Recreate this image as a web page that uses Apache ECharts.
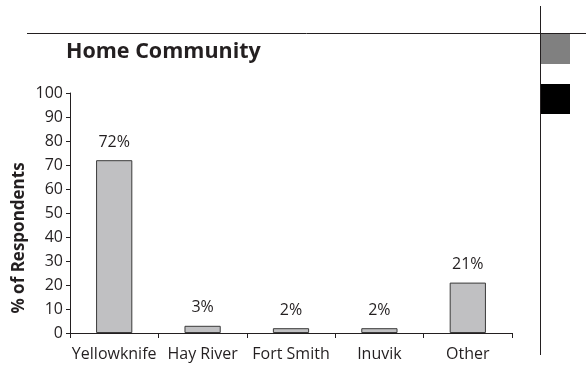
<!DOCTYPE html>
<html>
<head>
<meta charset="utf-8">
<script src="https://cdn.jsdelivr.net/npm/echarts@6/dist/echarts.min.js"></script>
<style>
  html, body { margin: 0; padding: 0; background: #fff; }
  #chart { width: 586px; height: 367px; }
</style>
</head>
<body>
<div id="chart"></div>
<script>
// Home community of respondents (% of respondents)
const communities = ['Yellowknife', 'Hay River', 'Fort Smith', 'Inuvik', 'Other'];
const percentRespondents = [72, 3, 2, 2, 21];
const yTicks = [0, 10, 20, 30, 40, 50, 60, 70, 80, 90, 100];

const FONT = '"Open Sans", "Noto Sans", sans-serif';
const INK = '#231f20';
const chart = echarts.init(document.getElementById('chart'), null, { renderer: 'canvas' });

chart.setOption({
  animation: false,
  backgroundColor: '#ffffff',
  title: {
    text: 'Home Community',
    left: 61,
    top: 36,
    textStyle: { fontFamily: FONT, fontSize: 21.5, fontWeight: 'bold', color: INK }
  },
  grid: { left: 70, right: 74, top: 93, bottom: 34, containLabel: false },
  xAxis: {
    type: 'category',
    data: communities,
    axisLine: { lineStyle: { color: INK, width: 1 } },
    axisTick: { show: true, length: 5, lineStyle: { color: INK } },
    axisLabel: {
      interval: 0,
      hideOverlap: false,
      fontFamily: FONT,
      fontSize: 16,
      color: INK,
      margin: 13
    }
  },
  yAxis: {
    type: 'value',
    min: yTicks[0],
    max: yTicks[yTicks.length - 1],
    interval: 10,
    splitLine: { show: false },
    axisLine: { show: true, lineStyle: { color: INK, width: 1 } },
    axisTick: { show: true, length: 4, lineStyle: { color: INK } },
    axisLabel: { fontFamily: FONT, fontSize: 16, color: INK, margin: 7 }
  },
  series: [{
    type: 'bar',
    data: percentRespondents,
    barWidth: '41%',
    itemStyle: { color: '#c0c0c2', borderColor: '#3a3a3a', borderWidth: 1 },
    label: {
      show: true,
      position: 'top',
      distance: 10,
      formatter: '{c}%',
      fontFamily: FONT,
      fontSize: 16,
      color: INK
    }
  }],
  graphic: [
    // axis title, set a little below the plot's middle
    {
      type: 'text',
      x: 19,
      y: 238,
      rotation: Math.PI / 2,
      style: {
        text: '% of Respondents',
        fontFamily: FONT,
        fontSize: 17,
        fontWeight: 'bold',
        fill: INK,
        align: 'center',
        verticalAlign: 'middle'
      }
    },
    // page rules and colour swatches in the margin
    { type: 'line', shape: { x1: 27, y1: 33.5, x2: 586, y2: 33.5 }, style: { stroke: INK, lineWidth: 1 } },
    { type: 'line', shape: { x1: 540.5, y1: 6, x2: 540.5, y2: 355 }, style: { stroke: INK, lineWidth: 1 } },
    { type: 'rect', shape: { x: 541, y: 34, width: 29, height: 30 }, style: { fill: '#808080' } },
    { type: 'rect', shape: { x: 541, y: 84, width: 29, height: 30 }, style: { fill: '#000000' } }
  ]
});
</script>
</body>
</html>
